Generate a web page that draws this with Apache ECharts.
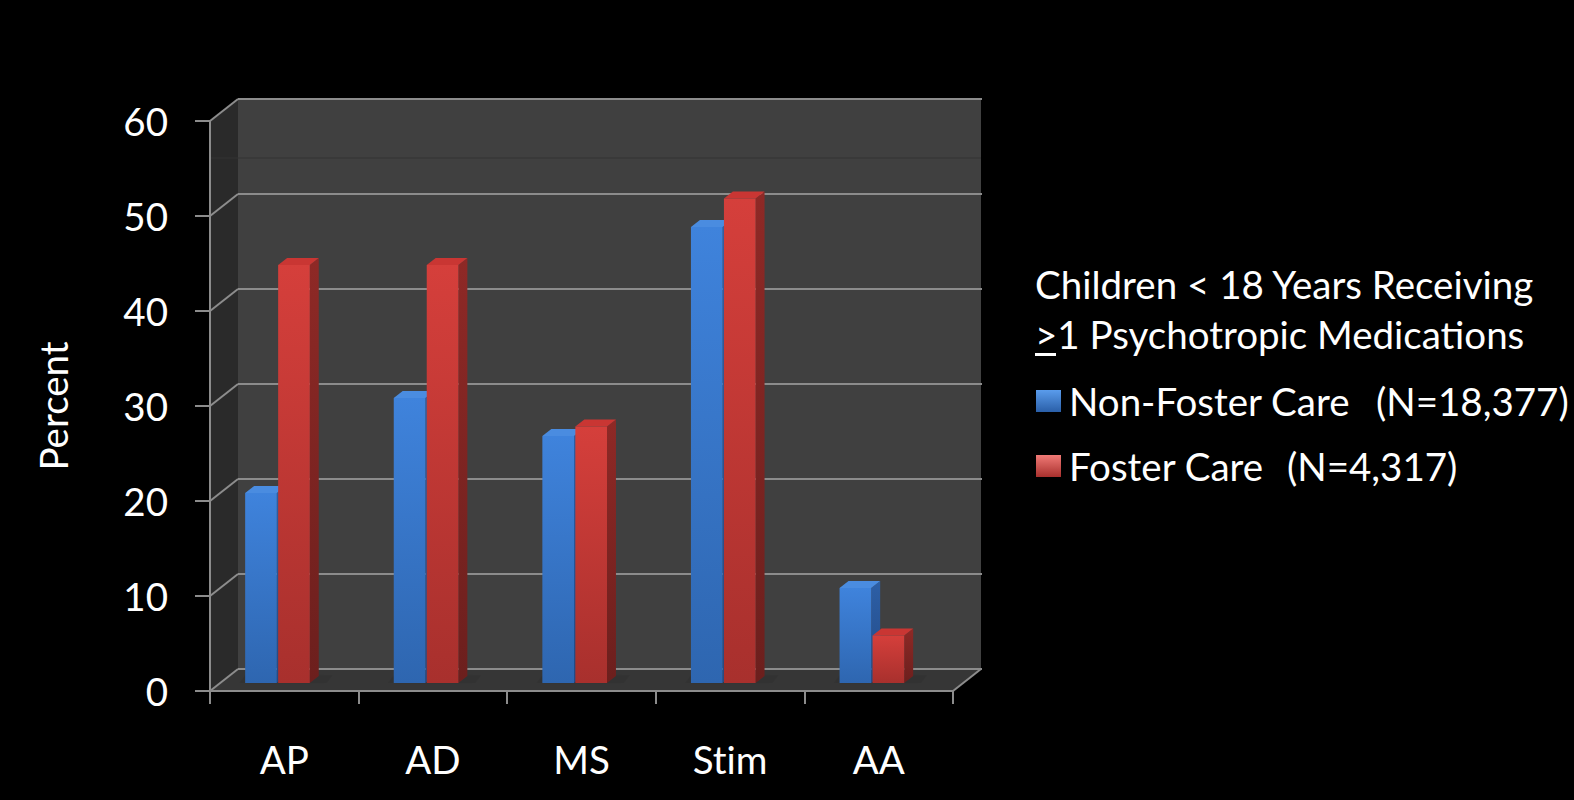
<!DOCTYPE html>
<html>
<head>
<meta charset="utf-8">
<script src="https://cdn.jsdelivr.net/npm/echarts@6/dist/echarts.min.js"></script>
<style>
  html, body { margin: 0; padding: 0; background: #000; }
  #chart { width: 1574px; height: 800px; font-variant-ligatures: none; }
  #chart svg text { font-variant-ligatures: none; }
</style>
</head>
<body>
<div id="chart"></div>
<script>
// Share of children under 18 on psychotropic medication, by drug class
const categories = ['AP', 'AD', 'MS', 'Stim', 'AA'];
const nonFosterCare = [20, 30, 26, 48, 10];
const fosterCare = [44, 44, 27, 51, 5];
const yTicks = [0, 10, 20, 30, 40, 50, 60];
const seriesNames = ['Non-Foster Care', 'Foster Care'];
const sampleSizes = ['(N=18,377)', '(N=4,317)'];
const legendTitle = ['Children < 18 Years Receiving', '>1 Psychotropic Medications'];

const FONT = 'Lato';
const FONT_SIZE = 38.5;

// oblique depth of the plot box (back wall offset from the front plane)
const DX = 28, DY = -22;
// depth slice occupied by the columns (fractions of the box depth)
const BAR_FRONT = 0.364, BAR_DEPTH = 0.32;
const BAR_WIDTH = 0.213;              // of a category band
const BAR_SLOTS = [-0.332, -0.110];   // left edge of each column, from band centre

const grad = (a, b) => new echarts.graphic.LinearGradient(0, 0, 0, 1, [
  { offset: 0, color: a }, { offset: 1, color: b }
]);

const palette = [
  { front: grad('#3f83dc', '#2e66b0'), side: grad('#2d5fa6', '#224a86'), top: '#4a8ce0', icon: grad('#5a9cec', '#2a5fa8') },
  { front: grad('#d53f3b', '#a8302d'), side: grad('#8e2926', '#6c1f1d'), top: '#c93633', icon: grad('#f07a76', '#a8302d') }
];

function renderWalls(params, api) {
  const cs = params.coordSys;
  const x0 = cs.x, x1 = cs.x + cs.width, yT = cs.y, yB = cs.y + cs.height;
  const grid = { stroke: '#8c8c8c', lineWidth: 2 };
  const kids = [
    { type: 'polygon', shape: { points: [[x0, yT], [x0 + DX, yT + DY], [x0 + DX, yB + DY], [x0, yB]] }, style: { fill: '#2a2a2a' } },
    { type: 'rect', shape: { x: x0 + DX, y: yT + DY, width: cs.width, height: cs.height }, style: { fill: '#404040' } },
    { type: 'polygon', shape: { points: [[x0, yB], [x1, yB], [x1 + DX, yB + DY], [x0 + DX, yB + DY]] }, style: { fill: '#363636' } },
    { type: 'line', shape: { x1: x1, y1: yB, x2: x1 + DX, y2: yB + DY }, style: grid },
    { type: 'line', shape: { x1: x0, y1: yT + 37, x2: x1 + DX, y2: yT + 37 }, style: { stroke: '#333', lineWidth: 1 } }
  ];
  yTicks.forEach(v => {
    const y = api.coord([0, v])[1];
    kids.push({ type: 'line', shape: { x1: x0 + DX, y1: y + DY, x2: x1 + DX + 1, y2: y + DY }, style: grid });
    kids.push({ type: 'line', shape: { x1: x0, y1: y, x2: x0 + DX, y2: y + DY }, style: grid });
  });
  // soft shadows cast on the floor around each pair of columns
  const band = api.size([1, 0])[0];
  categories.forEach((c, i) => {
    const p = api.coord([i, 0]);
    const l = p[0] + band * BAR_SLOTS[0] + DX * BAR_FRONT - 6;
    const r = p[0] + band * (BAR_SLOTS[1] + BAR_WIDTH) + DX * (BAR_FRONT + BAR_DEPTH) + 8;
    const yb = p[1] + DY * BAR_FRONT;
    kids.push({
      type: 'polygon',
      shape: { points: [[l, yb], [r, yb], [r + 6, yb + DY * 0.35], [l + 6, yb + DY * 0.35]] },
      style: { fill: 'rgba(0,0,0,0.06)', shadowBlur: 10, shadowColor: 'rgba(0,0,0,0.45)' }
    });
  });
  return { type: 'group', children: kids };
}

function columnRenderer(k) {
  return function (params, api) {
    const idx = api.value(0), val = api.value(1);
    const base = api.coord([idx, 0]);
    const topP = api.coord([idx, val]);
    const band = api.size([1, 0])[0];
    const w = band * BAR_WIDTH;
    const L = base[0] + band * BAR_SLOTS[k] + DX * BAR_FRONT;
    const R = L + w;
    const yb = base[1] + DY * BAR_FRONT;
    const yt = topP[1] + DY * BAR_FRONT;
    const sx = DX * BAR_DEPTH, sy = DY * BAR_DEPTH;
    const c = palette[k];
    return {
      type: 'group',
      children: [
        { type: 'polygon', shape: { points: [[R, yt], [R + sx, yt + sy], [R + sx, yb + sy], [R, yb]] }, style: { fill: c.side } },
        { type: 'polygon', shape: { points: [[L, yt], [L + sx, yt + sy], [R + sx, yt + sy], [R, yt]] }, style: { fill: c.top } },
        { type: 'rect', shape: { x: L, y: yt, width: w, height: yb - yt }, style: { fill: c.front } }
      ]
    };
  };
}

// SVG output so the page stylesheet can switch off the "ti" ligature
const chart = echarts.init(document.getElementById('chart'), null, { renderer: 'svg' });

const textBase = { color: '#fff', fontFamily: FONT, fontSize: FONT_SIZE };

chart.setOption({
  backgroundColor: '#000',
  animation: false,
  grid: { left: 210, right: 621, top: 121, bottom: 109, containLabel: false },
  xAxis: {
    type: 'category',
    data: categories,
    z: 10,
    axisLine: { lineStyle: { color: '#8c8c8c', width: 2 } },
    axisTick: { show: true, length: 13, lineStyle: { color: '#8c8c8c', width: 2 } },
    axisLabel: Object.assign({ margin: 48 }, textBase),
    splitLine: { show: false }
  },
  yAxis: {
    type: 'value',
    min: yTicks[0],
    max: yTicks[yTicks.length - 1],
    interval: yTicks[1] - yTicks[0],
    z: 10,
    name: 'Percent',
    nameLocation: 'middle',
    nameRotate: 90,
    nameGap: 138,
    nameTextStyle: textBase,
    axisLine: { show: true, lineStyle: { color: '#8c8c8c', width: 2 } },
    axisTick: { show: true, length: 15, lineStyle: { color: '#8c8c8c', width: 2 } },
    axisLabel: Object.assign({ margin: 42, padding: [0, 0, 4, 0] }, textBase),
    splitLine: { show: false }
  },
  legend: {
    orient: 'vertical',
    left: 1031,
    top: 374,
    itemWidth: 25,
    itemHeight: 22,
    itemGap: 21,
    icon: 'rect',
    selectedMode: false,
    data: seriesNames.map((n, i) => ({ name: n, itemStyle: { color: palette[i].icon } })),
    formatter: name => {
      const i = seriesNames.indexOf(name);
      return '{n' + i + '|' + name + '}{s|' + sampleSizes[i] + '}';
    },
    textStyle: Object.assign({ lineHeight: 44, padding: [0, 0, 0, 3], rich: {
      n0: Object.assign({ width: 307 }, textBase),
      n1: Object.assign({ width: 218 }, textBase),
      s: textBase
    } }, textBase)
  },
  graphic: [
    { type: 'text', x: 1035, y: 284, style: { text: legendTitle[0], fill: '#fff', font: FONT_SIZE + 'px ' + FONT, verticalAlign: 'middle' } },
    { type: 'text', x: 1035, y: 334, style: { text: legendTitle[1], fill: '#fff', font: FONT_SIZE + 'px ' + FONT, verticalAlign: 'middle' } },
    { type: 'rect', x: 1035, y: 353, shape: { width: 21, height: 3 }, style: { fill: '#fff' } }
  ],
  series: [
    { type: 'custom', name: 'walls', z: 1, silent: true, renderItem: renderWalls, data: [[0, 0]] },
    { type: 'custom', name: seriesNames[0], z: 2, renderItem: columnRenderer(0), itemStyle: { color: palette[0].icon },
      data: nonFosterCare.map((v, i) => [i, v]) },
    { type: 'custom', name: seriesNames[1], z: 3, renderItem: columnRenderer(1), itemStyle: { color: palette[1].icon },
      data: fosterCare.map((v, i) => [i, v]) }
  ]
});
</script>
</body>
</html>
